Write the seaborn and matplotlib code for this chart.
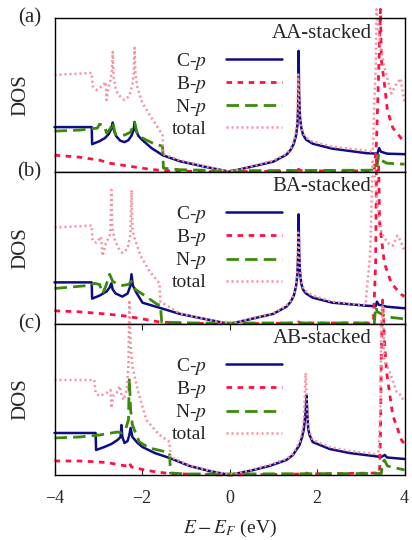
import matplotlib
matplotlib.use("Agg")
import matplotlib.pyplot as plt
import seaborn as sns
import pandas as pd

# Projected p-orbital DOS of C, B and N for three stacking orders (arb. units)

# ---------- (a) AA-stacked ----------
cp_a_e = [-4.00, -3.15, -3.14, -2.97, -2.85, -2.76, -2.70, -2.67, -2.64, -2.59, -2.50, -2.40,
          -2.31, -2.24, -2.19, -2.17, -2.14, -2.08, -1.99, -1.78, -1.53, -1.14, -0.57, 0.00,
          0.50, 1.00, 1.30, 1.40, 1.47, 1.52, 1.55, 1.57, 1.58, 1.59, 1.61, 1.64, 1.68, 1.75,
          1.90, 2.35, 3.13, 3.38, 3.42, 3.46, 3.60, 4.00]
cp_a_dos = [0.445, 0.445, 0.275, 0.305, 0.335, 0.375, 0.43, 0.49, 0.41, 0.355, 0.31, 0.295,
            0.315, 0.36, 0.42, 0.495, 0.415, 0.355, 0.315, 0.235, 0.165, 0.105, 0.05, 0.0,
            0.05, 0.10, 0.17, 0.22, 0.28, 0.36, 0.46, 0.65, 1.205, 0.80, 0.55, 0.44, 0.37, 0.32,
            0.28, 0.23, 0.185, 0.18, 0.235, 0.20, 0.18, 0.175]

bp_a_e = [-4.00, -3.43, -2.97, -2.74, -2.29, -1.83, -1.49, -0.80, 0.00, 1.20, 1.55, 1.58,
          1.62, 2.50, 3.20, 3.31, 3.36, 3.41, 3.45, 3.47, 3.54, 3.61, 3.73, 3.93, 4.00]
bp_a_dos = [0.165, 0.145, 0.115, 0.085, 0.055, 0.025, 0.01, 0.003, 0.0, 0.005, 0.015, 0.025,
            0.012, 0.005, 0.01, 0.02, 0.30, 1.00, 1.62, 1.12, 0.88, 0.61, 0.44, 0.33, 0.30]

np_a_e = [-4.00, -3.43, -3.02, -2.97, -2.86, -2.81, -2.72, -2.67, -2.61, -2.40, -2.26, -2.17,
          -2.10, -1.94, -1.71, -1.53, -1.51, -1.14, 0.00, 3.20, 3.36, 3.41, 3.47, 3.59, 4.00]
np_a_dos = [0.405, 0.415, 0.435, 0.475, 0.455, 0.385, 0.435, 0.495, 0.375, 0.365, 0.395, 0.495,
            0.365, 0.325, 0.275, 0.255, 0.035, 0.02, 0.01, 0.015, 0.02, 0.165, 0.115, 0.085, 0.075]

tot_a_e = [-4.00, -3.15, -3.13, -3.04, -2.90, -2.83, -2.81, -2.77, -2.72, -2.69, -2.67, -2.65,
           -2.60, -2.54, -2.40, -2.29, -2.22, -2.19, -2.17, -2.15, -2.10, -1.99, -1.78, -1.60,
           -1.53, -1.51, -1.14, -0.57, 0.00, 0.50, 1.00, 1.30, 1.40, 1.47, 1.52, 1.55, 1.57,
           1.59, 1.61, 1.64, 1.68, 1.75, 1.90, 2.35, 3.13, 3.27, 3.29, 3.31, 3.34, 3.36, 3.43,
           3.54, 3.70, 3.82, 3.91, 3.98, 4.00]
tot_a_dos = [0.965, 0.985, 0.855, 0.815, 0.855, 0.895, 0.715, 0.835, 0.915, 1.00, 1.195, 0.95,
             0.82, 0.765, 0.715, 0.755, 0.865, 0.98, 1.235, 0.97, 0.83, 0.685, 0.535, 0.415,
             0.365, 0.175, 0.115, 0.055, 0.0, 0.055, 0.11, 0.18, 0.235, 0.30, 0.40, 0.52, 0.97,
             0.75, 0.56, 0.45, 0.39, 0.34, 0.30, 0.25, 0.21, 0.20, 0.35, 0.71, 1.00, 1.62, 1.31,
             1.04, 0.78, 0.88, 0.93, 0.74, 0.70]

# ---------- (b) BA-stacked ----------
cp_b_e = [-4.00, -3.15, -3.14, -2.97, -2.81, -2.74, -2.70, -2.67, -2.60, -2.45, -2.33, -2.27,
          -2.24, -2.21, -2.13, -1.99, -1.60, -1.14, -0.57, 0.00, 0.50, 1.00, 1.30, 1.40, 1.47,
          1.52, 1.55, 1.57, 1.58, 1.59, 1.61, 1.64, 1.68, 1.75, 1.90, 2.35, 3.13, 3.34, 3.37,
          3.41, 3.60, 4.00]
cp_b_dos = [0.41, 0.41, 0.25, 0.28, 0.32, 0.36, 0.40, 0.34, 0.30, 0.27, 0.30, 0.37,
            0.49, 0.38, 0.31, 0.21, 0.16, 0.10, 0.05, 0.0, 0.05, 0.10, 0.17, 0.22, 0.28,
            0.37, 0.48, 0.70, 1.08, 0.75, 0.52, 0.40, 0.34, 0.30, 0.26, 0.21, 0.18, 0.175, 0.22,
            0.19, 0.17, 0.155]

bp_b_e = [-4.00, -3.43, -2.86, -2.40, -1.99, -1.60, -1.14, 0.00, 1.55, 1.58, 1.62, 3.20,
          3.29, 3.34, 3.36, 3.41, 3.43, 3.54, 3.70, 3.93, 4.00]
bp_b_dos = [0.13, 0.12, 0.10, 0.08, 0.05, 0.02, 0.01, 0.0, 0.01, 0.02, 0.01, 0.01,
            0.03, 0.60, 1.62, 1.55, 1.00, 0.60, 0.40, 0.29, 0.27]

np_b_e = [-4.00, -3.20, -3.09, -2.97, -2.90, -2.83, -2.74, -2.67, -2.54, -2.45, -2.31, -2.24,
          -2.15, -1.94, -1.64, -1.58, -1.55, -1.00, 0.00, 3.31, 3.34, 3.38, 3.59, 4.00]
np_b_dos = [0.35, 0.38, 0.40, 0.39, 0.30, 0.37, 0.49, 0.42, 0.39, 0.38, 0.39, 0.42,
            0.34, 0.28, 0.19, 0.19, 0.02, 0.01, 0.01, 0.01, 0.17, 0.12, 0.07, 0.05]

tot_b_e = [-4.00, -3.15, -3.13, -3.04, -2.97, -2.94, -2.90, -2.83, -2.74, -2.72, -2.70, -2.68,
           -2.63, -2.54, -2.45, -2.33, -2.27, -2.26, -2.24, -2.22, -2.19, -2.03, -1.83, -1.60,
           -1.58, -1.14, -0.57, 0.00, 0.50, 1.00, 1.30, 1.40, 1.47, 1.52, 1.55, 1.57, 1.59,
           1.61, 1.64, 1.68, 1.75, 1.90, 2.35, 2.97, 3.11, 3.13, 3.18, 3.22, 3.27, 3.31, 3.38,
           3.47, 3.61, 3.73, 3.84, 3.91, 3.98, 4.00]
tot_b_dos = [0.95, 0.97, 0.82, 0.80, 0.84, 0.86, 0.67, 0.79, 0.87, 0.95, 1.32, 0.95,
             0.84, 0.75, 0.70, 0.74, 0.87, 0.97, 1.32, 0.95, 0.87, 0.67, 0.52, 0.40,
             0.22, 0.105, 0.05, 0.0, 0.055, 0.105, 0.18, 0.23, 0.29, 0.39, 0.52, 0.90, 0.78,
             0.55, 0.43, 0.36, 0.32, 0.28, 0.22, 0.19, 0.19, 0.30, 0.52, 0.72, 1.60, 1.50, 1.17,
             0.90, 0.80, 0.77, 0.87, 0.82, 0.74, 0.72]

# ---------- (c) AB-stacked ----------
cp_c_e = [-4.00, -3.06, -3.05, -2.86, -2.70, -2.56, -2.49, -2.47, -2.45, -2.40, -2.33, -2.29,
          -2.26, -2.22, -2.10, -1.99, -1.71, -1.37, -0.91, -0.46, 0.00, 0.50, 0.91, 1.30, 1.45,
          1.60, 1.66, 1.70, 1.74, 1.76, 1.78, 1.80, 1.83, 1.90, 2.29, 2.74, 3.47, 3.55, 3.60,
          4.00]
cp_c_dos = [0.42, 0.42, 0.25, 0.28, 0.31, 0.35, 0.38, 0.50, 0.38, 0.32, 0.34, 0.40,
            0.47, 0.38, 0.32, 0.28, 0.22, 0.17, 0.09, 0.04, 0.0, 0.045, 0.09, 0.15, 0.20,
            0.30, 0.38, 0.46, 0.63, 0.80, 0.60, 0.46, 0.40, 0.33, 0.26, 0.22, 0.18, 0.20, 0.175,
            0.16]

bp_c_e = [-4.00, -3.43, -2.97, -2.74, -2.51, -2.33, -2.29, -2.24, -1.94, -1.67, -1.37, -0.69,
          0.00, 1.74, 1.76, 1.78, 3.43, 3.45, 3.47, 3.50, 3.54, 3.59, 3.73, 3.93, 4.00]
bp_c_dos = [0.14, 0.14, 0.13, 0.12, 0.10, 0.09, 0.12, 0.08, 0.05, 0.03, 0.015, 0.005,
            0.0, 0.01, 0.02, 0.01, 0.02, 0.40, 1.20, 1.75, 1.35, 1.03, 0.60, 0.35, 0.31]

np_c_e = [-4.00, -3.43, -2.97, -2.70, -2.56, -2.47, -2.38, -2.31, -2.29, -2.26, -2.22, -2.06,
          -1.83, -1.44, -1.37, -1.35, -1.00, 0.00, 3.47, 3.50, 3.54, 3.61, 4.00]
np_c_dos = [0.37, 0.38, 0.40, 0.42, 0.43, 0.42, 0.45, 0.55, 0.97, 0.65, 0.50, 0.33,
            0.27, 0.23, 0.22, 0.02, 0.01, 0.01, 0.015, 0.12, 0.15, 0.09, 0.05]

tot_c_e = [-4.00, -3.09, -3.06, -2.97, -2.81, -2.72, -2.70, -2.65, -2.58, -2.51, -2.47, -2.42,
           -2.35, -2.31, -2.29, -2.26, -2.22, -2.10, -1.90, -1.60, -1.37, -1.35, -0.91, -0.46,
           0.00, 0.50, 0.91, 1.30, 1.45, 1.60, 1.66, 1.70, 1.74, 1.78, 1.80, 1.83, 1.90, 2.29,
           2.74, 3.31, 3.41, 3.45, 3.47, 3.50, 3.54, 3.66, 3.82, 3.91, 4.00]
tot_c_dos = [0.95, 0.95, 0.82, 0.79, 0.82, 0.85, 0.67, 0.80, 0.82, 0.89, 0.80, 0.75,
             0.85, 1.10, 1.75, 1.30, 1.09, 0.85, 0.55, 0.40, 0.33, 0.18, 0.095, 0.045,
             0.0, 0.05, 0.10, 0.16, 0.21, 0.33, 0.42, 0.55, 1.02, 0.62, 0.50, 0.43, 0.35, 0.28,
             0.24, 0.21, 0.24, 0.70, 1.50, 1.70, 1.15, 1.03, 0.83, 0.80, 0.73]

panel_tags = ["(a)", "(b)", "(c)"]
stack_names = ["AA-stacked", "BA-stacked", "AB-stacked"]
series_names = ["C-$p$", "B-$p$", "N-$p$", "total"]
x_ticks = [-4, -2, 0, 2, 4]

panels = [
    [(cp_a_e, cp_a_dos), (bp_a_e, bp_a_dos), (np_a_e, np_a_dos), (tot_a_e, tot_a_dos)],
    [(cp_b_e, cp_b_dos), (bp_b_e, bp_b_dos), (np_b_e, np_b_dos), (tot_b_e, tot_b_dos)],
    [(cp_c_e, cp_c_dos), (bp_c_e, bp_c_dos), (np_c_e, np_c_dos), (tot_c_e, tot_c_dos)],
]

sns.set_style("white")
plt.rcParams["font.family"] = ["Liberation Serif", "DejaVu Serif"]
plt.rcParams["mathtext.fontset"] = "stix"

styles = [
    dict(color="#0d0d85", linestyle="-", linewidth=1.8),
    dict(color="#ff1040", linestyle=(0, (2.0, 2.0)), linewidth=2.0),
    dict(color="#3c8a0c", linestyle=(0, (4.5, 2.2)), linewidth=2.0),
    dict(color="#f5919f", linestyle=(0, (0.8, 1.2)), linewidth=1.8),
]

fig = plt.figure(figsize=(4.12, 5.40), dpi=100)
boxes = [
    [0.1323, 0.6820, 0.8495, 0.2841],
    [0.1323, 0.4000, 0.8495, 0.2820],
    [0.1323, 0.1204, 0.8495, 0.2796],
]
ylims = [1.53, 1.50, 1.51]

for i, (box, curves) in enumerate(zip(boxes, panels)):
    ax = fig.add_axes(box)
    for (e, d), name, st in zip(curves, series_names, styles):
        df = pd.DataFrame({"E": e, "DOS": d})
        sns.lineplot(data=df, x="E", y="DOS", ax=ax, estimator=None, label=name,
                     clip_on=False, **st)
    ax.set_xlim(-4, 4)
    ax.set_ylim(0, ylims[i])
    ax.set_yticks([])
    ax.set_ylabel("")
    ax.set_xlabel("")
    for sp in ax.spines.values():
        sp.set_linewidth(1.0)
        sp.set_color("black")
    if i < 2:
        ax.set_xticks([])
    else:
        ax.set_xticks(x_ticks)
        ax.set_xticklabels(["\u22124", "\u22122", "0", "2", "4"])
        ax.tick_params(axis="x", direction="in", top=True, bottom=True, length=4,
                       width=0.8, labelsize=13, pad=11)
        ax.set_xlabel("$E-E_F$ (eV)", fontsize=14, labelpad=8)

    handles = ax.get_lines()[:4]
    ax.legend(handles, series_names, loc="upper right", bbox_to_anchor=(0.651, 0.79),
              frameon=False, markerfirst=False, fontsize=14, handlelength=2.9,
              handletextpad=1.0, labelspacing=0.12, borderpad=0, borderaxespad=0)

    ax.text(0.906, 0.965, stack_names[i], transform=ax.transAxes, ha="right", va="top",
            fontsize=15)
    ax.text(-0.097, 0.5, "DOS", transform=ax.transAxes, rotation=90, ha="center",
            va="center", fontsize=15)
    ax.text(-0.071, 1.0, panel_tags[i], transform=ax.transAxes, ha="center", va="center",
            fontsize=15)

fig.savefig("out.png", dpi=100)
